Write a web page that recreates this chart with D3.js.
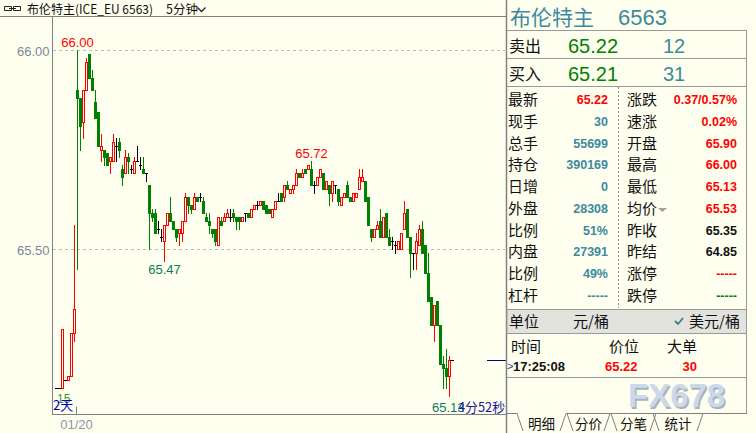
<!DOCTYPE html>
<html><head><meta charset="utf-8">
<script src="https://cdn.jsdelivr.net/npm/d3@7/dist/d3.min.js"></script>
<style>
body{margin:0;background:#FFFFF0;overflow:hidden}
svg{display:block}
</style>
</head><body>
<svg id="c" width="756" height="433"></svg>
<script>
// ---- candle data (5-minute bars), index 0..6 previous session, 7.. 01/20 session ----
const opens  = [65.15,65.15,65.15,65.17,65.17,65.18,65.29,
65.90,65.88,65.82,65.90,65.99,65.93,65.87,65.845,65.75,65.75,65.74,65.72,65.72,65.76,65.77,65.70,65.69,65.73,65.70,65.69,65.72,65.71,65.70,65.69,
65.66,65.59,65.59,65.55,65.53,65.52,65.56,65.59,65.57,65.55,65.54,65.54,65.57,65.63,65.61,65.60,65.63,65.63,65.62,65.58,
65.57,65.55,65.55,65.51,65.57,65.57,65.58,65.58,65.59,65.58,65.58,65.57,65.59,65.59,65.58,65.60,65.61,65.61,65.62,65.61,
65.60,65.58,65.60,65.62,65.64,65.63,65.66,65.64,65.65,65.66,65.69,65.68,65.70,65.70,65.70,65.66,65.66,65.68,65.69,65.65,
65.66,65.64,65.66,65.65,65.61,65.63,65.66,65.63,65.62,65.63,65.65,65.67,65.67,65.63,65.55,65.53,65.55,65.57,65.53,65.59,
65.53,65.52,65.51,65.50,65.50,65.55,65.60,65.53,65.49,65.49,65.51,65.55,65.51,65.44,65.38,65.31,65.37,65.31,65.21,65.20,65.18];
const highs  = [65.15,65.15,65.30,65.17,65.18,65.29,65.56,
66.00,65.88,65.90,65.98,65.99,65.95,65.90,65.845,65.79,65.75,65.74,65.73,65.79,65.78,65.78,65.71,65.75,65.74,65.71,65.73,65.76,65.73,65.73,65.69,
65.66,65.60,65.60,65.57,65.55,65.56,65.59,65.63,65.57,65.55,65.55,65.57,65.64,65.63,65.61,65.64,65.63,65.64,65.63,65.59,
65.59,65.55,65.55,65.58,65.58,65.59,65.60,65.60,65.60,65.58,65.58,65.58,65.59,65.59,65.60,65.61,65.62,65.62,65.62,65.61,
65.60,65.60,65.62,65.64,65.64,65.66,65.67,65.65,65.66,65.70,65.69,65.70,65.70,65.71,65.72,65.67,65.68,65.70,65.69,65.67,
65.66,65.67,65.66,65.65,65.63,65.64,65.67,65.63,65.64,65.64,65.70,65.70,65.67,65.63,65.55,65.55,65.57,65.60,65.58,65.59,
65.55,65.53,65.52,65.52,65.54,65.62,65.60,65.53,65.49,65.54,65.56,65.57,65.51,65.49,65.38,65.36,65.37,65.31,65.23,65.25,65.23];
const lows   = [65.15,65.15,65.15,65.17,65.17,65.18,65.27,
65.45,65.75,65.78,65.90,65.93,65.90,65.83,65.76,65.72,65.71,65.71,65.69,65.72,65.72,65.73,65.66,65.69,65.69,65.69,65.69,65.72,65.70,65.69,65.67,
65.50,65.57,65.54,65.54,65.52,65.47,65.56,65.57,65.55,65.52,65.51,65.52,65.57,65.59,65.59,65.60,65.62,65.62,65.59,65.57,
65.54,65.53,65.51,65.51,65.56,65.57,65.58,65.57,65.57,65.55,65.55,65.57,65.57,65.58,65.58,65.60,65.60,65.61,65.60,65.59,
65.59,65.58,65.60,65.62,65.62,65.62,65.65,65.64,65.64,65.66,65.68,65.68,65.69,65.70,65.66,65.64,65.66,65.68,65.65,65.65,
65.61,65.62,65.64,65.61,65.61,65.63,65.63,65.62,65.62,65.63,65.65,65.67,65.62,65.56,65.52,65.53,65.55,65.53,65.53,65.53,
65.51,65.50,65.49,65.50,65.50,65.55,65.53,65.43,65.45,65.45,65.51,65.49,65.44,65.37,65.31,65.27,65.31,65.21,65.15,65.15,65.13];
const closes = [65.15,65.15,65.30,65.17,65.18,65.29,65.35,
65.88,65.81,65.90,65.97,65.93,65.90,65.83,65.76,65.76,65.73,65.71,65.73,65.77,65.76,65.75,65.68,65.73,65.72,65.70,65.72,65.72,65.71,65.69,65.69,
65.59,65.58,65.54,65.55,65.53,65.56,65.59,65.57,65.55,65.53,65.55,65.57,65.63,65.61,65.60,65.63,65.62,65.63,65.59,65.57,
65.56,65.54,65.52,65.58,65.56,65.58,65.59,65.58,65.58,65.57,65.57,65.58,65.59,65.58,65.60,65.61,65.61,65.62,65.60,65.59,
65.59,65.60,65.62,65.62,65.62,65.66,65.65,65.65,65.66,65.69,65.68,65.69,65.69,65.71,65.66,65.66,65.68,65.70,65.65,65.67,
65.64,65.67,65.66,65.62,65.63,65.64,65.63,65.62,65.64,65.64,65.68,65.68,65.62,65.56,65.53,65.55,65.56,65.53,65.58,65.53,
65.51,65.52,65.51,65.52,65.54,65.59,65.53,65.49,65.49,65.52,65.55,65.49,65.44,65.37,65.31,65.36,65.31,65.21,65.20,65.18,65.22];

const yTicks = [65.50, 66.00];
const yTickLabels = ["65.50", "66.00"];
const xTickIndex = [7];
const xTickLabels = ["01/20"];

// annotations
const highLabel = {i: 7, v: 66.00, text: "66.00"};
const peakLabel = {i: 85, v: 65.72, text: "65.72"};
const dipLabel  = {i: 36, v: 65.47, text: "65.47"};
const lowLabel  = {text: "65.13"};
const lastPrice = 65.22;

// quote panel
const bidAskLabels = ["卖出", "买入"];
const bidAskPrices = ["65.22", "65.21"];
const bidAskVols = ["12", "31"];
const leftLabels = ["最新","现手","总手","持仓","日增","外盘","比例","内盘","比例","杠杆"];
const leftValues = ["65.22","30","55699","390169","0","28308","51%","27391","49%","-----"];
const rightLabels = ["涨跌","速涨","开盘","最高","最低","均价","昨收","昨结","涨停","跌停"];
const rightValues = ["0.37/0.57%","0.02%","65.90","66.00","65.13","65.53","65.35","64.85","-----","-----"];
const tickHeader = ["时间","价位","大单"];
const tickRow = ["17:25:08","65.22","30"];
const tabs = ["明细","分价","分笔","统计"];

// ---- drawing ----
const BG = "#FFFFF0";
const RED = "#FF0000", GREEN = "#008000", TEAL = "#3C8A9C";
const CJK = '"Noto Sans CJK SC","Noto Sans",sans-serif';
const NUM = '"Liberation Sans",Arial,sans-serif';

const svg = d3.select("#c");
svg.append("rect").attr("width", 756).attr("height", 433).attr("fill", BG);

const N = opens.length;
const x = d3.scaleBand().domain(d3.range(N)).range([55, 55 + 3 * N]).padding(0);
const y = d3.scaleLinear().domain([65.5, 66.0]).range([249.5, 50.5]);
const row = v => Math.floor(y(v));

// title bar
svg.append("path").attr("d", "M4.5,6.5h7v4h-7z M13.5,6.5h7v4h-7z M9,8.5h7")
  .attr("fill", "none").attr("stroke", "#222").attr("stroke-width", 1);
svg.append("text").attr("x", 27).attr("y", 13.5).attr("font-family", CJK).attr("font-size", 12.5)
  .attr("fill", "#111").attr("textLength", 126).attr("lengthAdjust", "spacingAndGlyphs")
  .text("布伦特主(ICE_EU 6563)");
svg.append("text").attr("x", 166).attr("y", 13.5).attr("font-family", CJK).attr("font-size", 12.5)
  .attr("fill", "#111").text("5分钟");
svg.append("path").attr("d", "M197.5,7.5l4,4l4,-4").attr("fill", "none").attr("stroke", "#222").attr("stroke-width", 1.3);
svg.append("line").attr("x1", 0).attr("x2", 506).attr("y1", 16.5).attr("y2", 16.5).attr("stroke", "#808080");

// grid dashed lines
svg.append("g").selectAll("line").data(yTicks).join("line")
  .attr("x1", 53).attr("x2", 505).attr("y1", d => row(d) + 0.5).attr("y2", d => row(d) + 0.5)
  .attr("stroke", "#BDBDBD").attr("stroke-dasharray", "3,3");

// y axis
const yAxis = d3.axisLeft(y).tickValues(yTicks).tickFormat((d, i) => yTickLabels[i]).tickSize(0).tickPadding(3);
const gy = svg.append("g").attr("transform", "translate(52.5,0)").call(yAxis);
gy.select(".domain").remove();
gy.selectAll("text").attr("font-family", NUM).attr("font-size", 13).attr("fill", "#7A8898").attr("dy", "0.36em");
svg.append("line").attr("x1", 52.5).attr("x2", 52.5).attr("y1", 16).attr("y2", 415).attr("stroke", "#808080");

// x axis
const xAxis = d3.axisBottom(x).tickValues(xTickIndex).tickFormat((d, i) => xTickLabels[i]).tickSize(-8).tickPadding(0);
const gx = svg.append("g").attr("transform", "translate(-1,414.5)").call(xAxis);
gx.select(".domain").remove();
gx.selectAll(".tick line").attr("stroke", "#808080");
gx.selectAll("text").attr("font-family", NUM).attr("font-size", 13).attr("fill", "#8A98A8").attr("y", 14.5).attr("dy", 0);
svg.append("line").attr("x1", 52).attr("x2", 506).attr("y1", 414.5).attr("y2", 414.5).attr("stroke", "#808080");

// candles
const bars = d3.range(N).map(i => ({i, o: opens[i], h: highs[i], l: lows[i], c: closes[i]}));
const cg = svg.append("g");
bars.forEach(b => {
  const col = b.c > b.o ? RED : (b.c < b.o ? GREEN : "#000");
  const x0 = x(b.i), cx = x0 + 1.5;
  const top = row(Math.max(b.o, b.c)), bot = row(Math.min(b.o, b.c));
  cg.append("line").attr("x1", cx).attr("x2", cx).attr("y1", row(b.h)).attr("y2", row(b.l) + 1)
    .attr("stroke", col).attr("stroke-width", 1);
  if (b.c > b.o) {
    cg.append("rect").attr("x", x0 + 0.5).attr("y", top + 0.5).attr("width", 2).attr("height", Math.max(bot - top, 0))
      .attr("fill", BG).attr("stroke", col).attr("stroke-width", 1);
  } else if (b.c < b.o) {
    cg.append("rect").attr("x", x0).attr("y", top).attr("width", 3).attr("height", Math.max(bot - top + 1, 1))
      .attr("fill", col);
  } else {
    cg.append("line").attr("x1", x0).attr("x2", x0 + 3).attr("y1", top + 0.5).attr("y2", top + 0.5)
      .attr("stroke", col).attr("stroke-width", 1);
  }
});

// annotation labels
function ann(lbl, dy, color) {
  svg.append("text").attr("x", x(lbl.i) + 1.5).attr("y", y(lbl.v) + dy).attr("text-anchor", "middle")
    .attr("font-family", NUM).attr("font-size", 13).attr("fill", color).text(lbl.text);
}
ann(highLabel, -4, RED);
ann(peakLabel, -4, RED);
ann(dipLabel, 13, "#0B7A5A");
svg.append("text").attr("x", 432).attr("y", 412).attr("font-family", NUM).attr("font-size", 13)
  .attr("fill", "#0B7A5A").text(lowLabel.text);
svg.append("text").attr("x", 458).attr("y", 412).attr("font-family", CJK).attr("font-size", 13)
  .attr("fill", "#1A1AA0").attr("textLength", 47).attr("lengthAdjust", "spacingAndGlyphs").text("4分52秒");
svg.append("text").attr("x", 57).attr("y", 403).attr("font-family", NUM).attr("font-size", 12)
  .attr("fill", "#2E9A2E").text("15");
svg.append("text").attr("x", 53).attr("y", 410).attr("font-family", CJK).attr("font-size", 13)
  .attr("fill", "#0000C8").text("2天");

// current price marker
svg.append("line").attr("x1", 450).attr("x2", 454).attr("y1", row(lastPrice) + 0.5).attr("y2", row(lastPrice) + 0.5).attr("stroke", "#000");
svg.append("line").attr("x1", 487).attr("x2", 506).attr("y1", row(lastPrice) + 0.5).attr("y2", row(lastPrice) + 0.5).attr("stroke", "#000080");

// ---- right quote panel ----
const P = svg.append("g");
P.append("line").attr("x1", 506.5).attr("x2", 506.5).attr("y1", 0).attr("y2", 433).attr("stroke", "#808080").attr("stroke-width", 1.5);
P.append("line").attr("x1", 746.5).attr("x2", 746.5).attr("y1", 30).attr("y2", 413).attr("stroke", "#9A9A9A");
P.append("text").attr("x", 510).attr("y", 25).attr("font-family", CJK).attr("font-size", 21).attr("fill", TEAL).text("布伦特主");
P.append("text").attr("x", 618).attr("y", 25).attr("font-family", NUM).attr("font-size", 22).attr("fill", TEAL).text("6563");
[30.5, 58.5, 86.5].forEach(v => P.append("line").attr("x1", 507).attr("x2", 747).attr("y1", v).attr("y2", v).attr("stroke", "#9A9A9A"));
bidAskLabels.forEach((t, k) => {
  const by = 53 + 28 * k;
  P.append("text").attr("x", 509).attr("y", by - 1).attr("font-family", CJK).attr("font-size", 16).attr("fill", "#111").text(t);
  P.append("text").attr("x", 568).attr("y", by).attr("font-family", NUM).attr("font-size", 20).attr("fill", GREEN).text(bidAskPrices[k]);
  P.append("text").attr("x", 663).attr("y", by).attr("font-family", NUM).attr("font-size", 20).attr("fill", TEAL).text(bidAskVols[k]);
});
const leftCol = leftLabels.map((l, k) => k === 0 ? RED : TEAL);
const rightCol = [RED, RED, RED, RED, RED, RED, "#111", "#111", RED, GREEN];
leftLabels.forEach((t, k) => {
  const by = 105 + 21.75 * k;
  P.append("text").attr("x", 508).attr("y", by).attr("font-family", CJK).attr("font-size", 15).attr("fill", "#111").text(t);
  P.append("text").attr("x", 608).attr("y", by - 1).attr("text-anchor", "end").attr("font-family", NUM).attr("font-weight", "bold")
    .attr("font-size", 12.5).attr("fill", leftCol[k]).text(leftValues[k]);
  P.append("text").attr("x", 627).attr("y", by).attr("font-family", CJK).attr("font-size", 15).attr("fill", "#111").text(rightLabels[k]);
  P.append("text").attr("x", 737).attr("y", by - 1).attr("text-anchor", "end").attr("font-family", NUM).attr("font-weight", "bold")
    .attr("font-size", 12.5).attr("fill", rightCol[k]).text(rightValues[k]);
});
P.append("path").attr("d", "M658,208h9l-4.5,4z").attr("fill", "#A0A0A0");
P.append("line").attr("x1", 618.5).attr("x2", 618.5).attr("y1", 87).attr("y2", 308).attr("stroke", "#909090").attr("stroke-dasharray", "2,2");

// unit band
P.append("rect").attr("x", 507).attr("y", 309.5).attr("width", 239.5).attr("height", 24).attr("fill", "#E3E3DE").attr("stroke", "#9A9A9A");
P.append("text").attr("x", 509).attr("y", 327).attr("font-family", CJK).attr("font-size", 15).attr("fill", "#111").text("单位");
P.append("text").attr("x", 573).attr("y", 327).attr("font-family", CJK).attr("font-size", 15).attr("fill", "#111").text("元/桶");
P.append("path").attr("d", "M675,321l3,3l5,-6").attr("fill", "none").attr("stroke", "#3C7A8C").attr("stroke-width", 1.8);
P.append("text").attr("x", 689).attr("y", 327).attr("font-family", CJK).attr("font-size", 15).attr("fill", "#111").text("美元/桶");

// tick detail
const hx = [511, 609, 667];
tickHeader.forEach((t, k) => P.append("text").attr("x", hx[k]).attr("y", 352).attr("font-family", CJK).attr("font-size", 15).attr("fill", "#111").text(t));
P.append("text").attr("x", 507).attr("y", 370).attr("font-family", NUM).attr("font-size", 11).attr("fill", "#2040A0").text(">");
P.append("text").attr("x", 513).attr("y", 371).attr("font-family", NUM).attr("font-weight", "bold").attr("font-size", 13).attr("fill", "#111").text(tickRow[0]);
P.append("text").attr("x", 605).attr("y", 371).attr("font-family", NUM).attr("font-weight", "bold").attr("font-size", 13).attr("fill", RED).text(tickRow[1]);
P.append("text").attr("x", 697).attr("y", 371).attr("text-anchor", "end").attr("font-family", NUM).attr("font-weight", "bold").attr("font-size", 13).attr("fill", RED).text(tickRow[2]);
P.append("line").attr("x1", 507).attr("x2", 747).attr("y1", 377.5).attr("y2", 377.5).attr("stroke", "#9A9A9A");

// watermark
P.append("text").attr("x", 629.5).attr("y", 408.5).attr("font-family", NUM).attr("font-weight", "bold").attr("font-size", 33).attr("fill", "#AAB2BC").text("FX678");
P.append("text").attr("x", 628).attr("y", 407).attr("font-family", NUM).attr("font-weight", "bold").attr("font-size", 33).attr("fill", "#CCD9EB").text("FX678");

// tabs
const tabX = [[517, 566], [567, 610], [611, 656], [653, 703]];
P.append("path").attr("d", "M507,413.5H517.5 M566,413.5H747").attr("stroke", "#808080").attr("fill", "none");
tabs.forEach((t, k) => {
  const [a, b] = tabX[k];
  P.append("path").attr("d", `M${a},413.5L${a + 6},431 M${b - 6},431L${b},413.5`).attr("stroke", "#808080").attr("fill", "none");
  P.append("text").attr("x", (a + b) / 2).attr("y", 429).attr("text-anchor", "middle").attr("font-family", CJK)
    .attr("font-size", 13.5).attr("fill", "#111").text(t);
});
</script>
</body></html>
